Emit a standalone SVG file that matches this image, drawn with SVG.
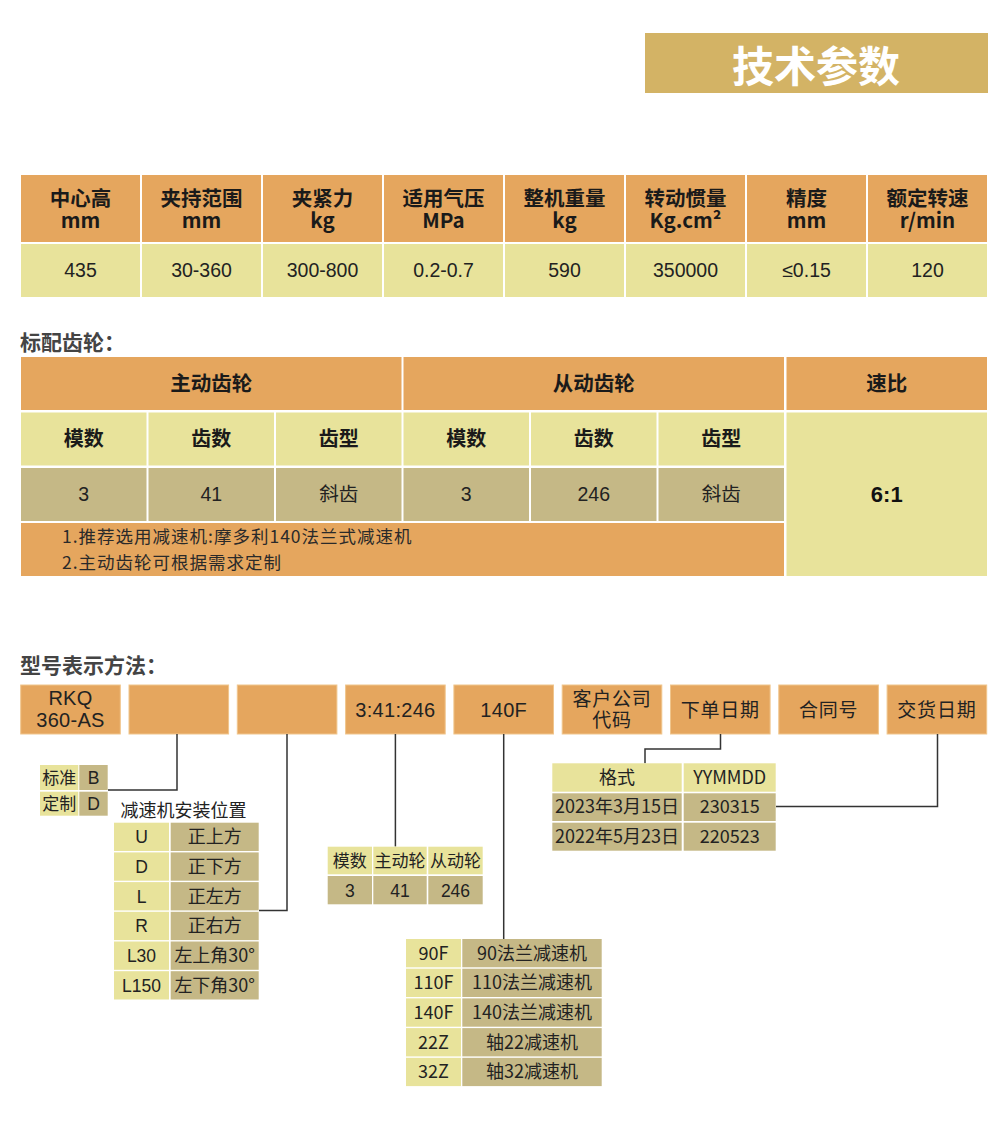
<svg xmlns="http://www.w3.org/2000/svg" width="1000" height="1134" viewBox="0 0 1000 1134">
<style>
.o{fill:#E5A65E}
.y{fill:#E8E39B}
.k{fill:#C5B886}
.bx{fill:#E5A65E;stroke:#F0C58C;stroke-width:1}
.hb{font-family:"Noto Sans CJK SC",sans-serif;font-weight:700;font-size:20.5px;fill:#1a1a1a;text-anchor:middle}
.hb2{font-family:"Noto Sans CJK SC",sans-serif;font-weight:700;font-size:20px;fill:#1a1a1a;text-anchor:middle}
.v{font-family:"Liberation Sans","Noto Sans CJK SC",sans-serif;font-size:19.5px;fill:#222;text-anchor:middle}
.mb{font-family:"Liberation Sans","Noto Sans CJK SC",sans-serif;font-size:20px;fill:#222;text-anchor:middle;letter-spacing:0.3px}
.vs{font-family:"Liberation Sans","Noto Sans CJK SC",sans-serif;font-size:17.5px;fill:#222;text-anchor:middle}
.cj{font-family:"Noto Sans CJK SC",sans-serif;font-size:18px;fill:#222;text-anchor:middle}
.cm{font-family:"Noto Sans CJK SC",sans-serif;font-size:19px;fill:#222;text-anchor:middle;letter-spacing:0.8px}
.ttl{font-family:"Noto Sans CJK SC",sans-serif;font-weight:700;font-size:21px;fill:#444}
.note{font-family:"Noto Sans CJK SC",sans-serif;font-size:17.5px;fill:#2a2a2a;letter-spacing:1px}
.ln{stroke:#333;stroke-width:1.5;fill:none}
</style>

<g id="banner">
<rect x="645" y="33" width="343" height="60" fill="#D3B365"/>
<text x="816" y="82" font-family="'Noto Sans CJK SC',sans-serif" font-weight="700" font-size="42" fill="#fff" text-anchor="middle">技术参数</text>
</g>

<g id="spec-table">
<rect class="o" x="21" y="175" width="119" height="67"/>
<rect class="o" x="142" y="175" width="119" height="67"/>
<rect class="o" x="263" y="175" width="119" height="67"/>
<rect class="o" x="384" y="175" width="119" height="67"/>
<rect class="o" x="505" y="175" width="119" height="67"/>
<rect class="o" x="626" y="175" width="119" height="67"/>
<rect class="o" x="747" y="175" width="119" height="67"/>
<rect class="o" x="868" y="175" width="119" height="67"/>
<rect class="y" x="21" y="244" width="119" height="53"/>
<rect class="y" x="142" y="244" width="119" height="53"/>
<rect class="y" x="263" y="244" width="119" height="53"/>
<rect class="y" x="384" y="244" width="119" height="53"/>
<rect class="y" x="505" y="244" width="119" height="53"/>
<rect class="y" x="626" y="244" width="119" height="53"/>
<rect class="y" x="747" y="244" width="119" height="53"/>
<rect class="y" x="868" y="244" width="119" height="53"/>
<text class="hb" x="80.5" y="205.5">中心高</text><text class="hb" x="80.5" y="228">mm</text>
<text class="hb" x="201.5" y="205.5">夹持范围</text><text class="hb" x="201.5" y="228">mm</text>
<text class="hb" x="322.5" y="205.5">夹紧力</text><text class="hb" x="322.5" y="228">kg</text>
<text class="hb" x="443.5" y="205.5">适用气压</text><text class="hb" x="443.5" y="228">MPa</text>
<text class="hb" x="564.5" y="205.5">整机重量</text><text class="hb" x="564.5" y="228">kg</text>
<text class="hb" x="685.5" y="205.5">转动惯量</text><text class="hb" x="685.5" y="228">Kg.cm²</text>
<text class="hb" x="806.5" y="205.5">精度</text><text class="hb" x="806.5" y="228">mm</text>
<text class="hb" x="927.5" y="205.5">额定转速</text><text class="hb" x="927.5" y="228">r/min</text>
<text class="v" x="80.5" y="277">435</text>
<text class="v" x="201.5" y="277">30-360</text>
<text class="v" x="322.5" y="277">300-800</text>
<text class="v" x="443.5" y="277">0.2-0.7</text>
<text class="v" x="564.5" y="277">590</text>
<text class="v" x="685.5" y="277">350000</text>
<text class="v" x="806.5" y="277">≤0.15</text>
<text class="v" x="927.5" y="277">120</text>
</g>

<g id="gear-title"><text class="ttl" x="20" y="350">标配齿轮：</text></g>

<g id="gear-table">
<rect class="o" x="21" y="357" width="380.5" height="53"/>
<rect class="o" x="403.5" y="357" width="380.5" height="53"/>
<rect class="o" x="786.5" y="357" width="200.5" height="53"/>
<rect class="y" x="21" y="412.5" width="125.5" height="53"/>
<rect class="y" x="148.5" y="412.5" width="125.5" height="53"/>
<rect class="y" x="276" y="412.5" width="125.5" height="53"/>
<rect class="y" x="403.5" y="412.5" width="125.5" height="53"/>
<rect class="y" x="531" y="412.5" width="125.5" height="53"/>
<rect class="y" x="658.5" y="412.5" width="125.5" height="53"/>
<rect class="k" x="21" y="468" width="125.5" height="53"/>
<rect class="k" x="148.5" y="468" width="125.5" height="53"/>
<rect class="k" x="276" y="468" width="125.5" height="53"/>
<rect class="k" x="403.5" y="468" width="125.5" height="53"/>
<rect class="k" x="531" y="468" width="125.5" height="53"/>
<rect class="k" x="658.5" y="468" width="125.5" height="53"/>
<rect class="o" x="21" y="523" width="763" height="53"/>
<rect class="y" x="786.5" y="412.5" width="200.5" height="163.5"/>
<text class="hb" x="211.25" y="391">主动齿轮</text>
<text class="hb" x="593.75" y="391">从动齿轮</text>
<text class="hb" x="886.75" y="391">速比</text>
<text class="hb2" x="83.75" y="446">模数</text>
<text class="hb2" x="211.25" y="446">齿数</text>
<text class="hb2" x="338.75" y="446">齿型</text>
<text class="hb2" x="466.25" y="446">模数</text>
<text class="hb2" x="593.75" y="446">齿数</text>
<text class="hb2" x="721.25" y="446">齿型</text>
<text class="v" x="83.75" y="501">3</text>
<text class="v" x="211.25" y="501">41</text>
<text class="v" x="338.75" y="501">斜齿</text>
<text class="v" x="466.25" y="501">3</text>
<text class="v" x="593.75" y="501">246</text>
<text class="v" x="721.25" y="501">斜齿</text>
<text x="886.75" y="502" font-family="'Liberation Sans',sans-serif" font-weight="700" font-size="22" fill="#111" text-anchor="middle">6:1</text>
<text class="note" x="62" y="543">1.推荐选用减速机:摩多利140法兰式减速机</text>
<text class="note" x="62" y="569">2.主动齿轮可根据需求定制</text>
</g>

<g id="model-title"><text class="ttl" x="20" y="673">型号表示方法：</text></g>

<g id="box-rkq"><rect class="bx" x="20.7" y="685" width="99.6" height="49"/>
<text class="mb" x="70.5" y="705">RKQ</text><text class="mb" x="70.5" y="726.5">360-AS</text></g>
<g id="box-2"><rect class="bx" x="129" y="685" width="99.6" height="49"/></g>
<g id="box-3"><rect class="bx" x="237.3" y="685" width="99.6" height="49"/></g>
<g id="box-ratio"><rect class="bx" x="345.6" y="685" width="99.6" height="49"/><text class="mb" x="395.4" y="716.5">3:41:246</text></g>
<g id="box-140f"><rect class="bx" x="453.9" y="685" width="99.6" height="49"/><text class="mb" x="503.7" y="716.5">140F</text></g>
<g id="box-customer"><rect class="bx" x="562.2" y="685" width="99.6" height="49"/><text class="cm" x="612" y="706">客户公司</text><text class="cm" x="612" y="727">代码</text></g>
<g id="box-order"><rect class="bx" x="670.5" y="685" width="99.6" height="49"/><text class="cm" x="720.3" y="717">下单日期</text></g>
<g id="box-contract"><rect class="bx" x="778.8" y="685" width="99.6" height="49"/><text class="cm" x="828.6" y="717">合同号</text></g>
<g id="box-delivery"><rect class="bx" x="887.1" y="685" width="99.6" height="49"/><text class="cm" x="936.9" y="717">交货日期</text></g>

<g id="connectors">
<path class="ln" d="M177,734 V790 H108"/>
<path class="ln" d="M287,734 V910.5 H259"/>
<path class="ln" d="M395.4,734 V846.5"/>
<path class="ln" d="M503.7,734 V939"/>
<path class="ln" d="M720.5,734 V749 H645 V763.3"/>
<path class="ln" d="M937.5,734 V806.5 H776"/>
</g>

<g id="std-table">
<rect class="y" x="40" y="765" width="38.3" height="25"/>
<rect class="k" x="79.3" y="765" width="28.4" height="25"/>
<rect class="y" x="40" y="791.7" width="38.3" height="24"/>
<rect class="k" x="79.3" y="791.7" width="28.4" height="24"/>
<text class="cj" x="59.2" y="784" style="font-size:17px">标准</text>
<text class="vs" x="93.5" y="784">B</text>
<text class="cj" x="59.2" y="810" style="font-size:17px">定制</text>
<text class="vs" x="93.5" y="810">D</text>
</g>

<g id="mount-table">
<text class="cj" x="120.5" y="817" style="text-anchor:start">减速机安装位置</text>
<rect class="y" x="114" y="822.7" width="55" height="28.3"/><rect class="k" x="170.7" y="822.7" width="88" height="28.3"/>
<rect class="y" x="114" y="852.4" width="55" height="28.3"/><rect class="k" x="170.7" y="852.4" width="88" height="28.3"/>
<rect class="y" x="114" y="882.1" width="55" height="28.3"/><rect class="k" x="170.7" y="882.1" width="88" height="28.3"/>
<rect class="y" x="114" y="911.8" width="55" height="28.3"/><rect class="k" x="170.7" y="911.8" width="88" height="28.3"/>
<rect class="y" x="114" y="941.5" width="55" height="28.3"/><rect class="k" x="170.7" y="941.5" width="88" height="28.3"/>
<rect class="y" x="114" y="971.2" width="55" height="28.3"/><rect class="k" x="170.7" y="971.2" width="88" height="28.3"/>
<text class="vs" x="141.5" y="843.3">U</text><text class="cj" x="214.7" y="843.3">正上方</text>
<text class="vs" x="141.5" y="873">D</text><text class="cj" x="214.7" y="873">正下方</text>
<text class="vs" x="141.5" y="902.7">L</text><text class="cj" x="214.7" y="902.7">正左方</text>
<text class="vs" x="141.5" y="932.4">R</text><text class="cj" x="214.7" y="932.4">正右方</text>
<text class="vs" x="141.5" y="962.1">L30</text><text class="cj" x="214.7" y="962.1">左上角30°</text>
<text class="vs" x="141.5" y="991.8">L150</text><text class="cj" x="214.7" y="991.8">左下角30°</text>
</g>

<g id="ratio-table">
<rect class="y" x="327.7" y="846.7" width="44.3" height="27.6"/>
<rect class="y" x="373.3" y="846.7" width="53.4" height="27.6"/>
<rect class="y" x="428.3" y="846.7" width="54.4" height="27.6"/>
<rect class="k" x="327.7" y="876" width="44.3" height="28.3"/>
<rect class="k" x="373.3" y="876" width="53.4" height="28.3"/>
<rect class="k" x="428.3" y="876" width="54.4" height="28.3"/>
<text class="cj" x="349.8" y="866.5" style="font-size:17px">模数</text>
<text class="cj" x="400" y="866.5" style="font-size:17px">主动轮</text>
<text class="cj" x="455.5" y="866.5" style="font-size:17px">从动轮</text>
<text class="vs" x="349.8" y="896.7">3</text>
<text class="vs" x="400" y="896.7">41</text>
<text class="vs" x="455.5" y="896.7">246</text>
</g>

<g id="reducer-table">
<rect class="y" x="406" y="939" width="55" height="28.3"/><rect class="k" x="462.3" y="939" width="139.4" height="28.3"/>
<rect class="y" x="406" y="968.7" width="55" height="28.3"/><rect class="k" x="462.3" y="968.7" width="139.4" height="28.3"/>
<rect class="y" x="406" y="998.4" width="55" height="28.3"/><rect class="k" x="462.3" y="998.4" width="139.4" height="28.3"/>
<rect class="y" x="406" y="1028.1" width="55" height="28.3"/><rect class="k" x="462.3" y="1028.1" width="139.4" height="28.3"/>
<rect class="y" x="406" y="1057.8" width="55" height="28.3"/><rect class="k" x="462.3" y="1057.8" width="139.4" height="28.3"/>
<text class="cj" x="433.5" y="959.5">90F</text><text class="cj" x="532" y="959.5">90法兰减速机</text>
<text class="cj" x="433.5" y="989.2">110F</text><text class="cj" x="532" y="989.2">110法兰减速机</text>
<text class="cj" x="433.5" y="1018.9">140F</text><text class="cj" x="532" y="1018.9">140法兰减速机</text>
<text class="cj" x="433.5" y="1048.6">22Z</text><text class="cj" x="532" y="1048.6">轴22减速机</text>
<text class="cj" x="433.5" y="1078.3">32Z</text><text class="cj" x="532" y="1078.3">轴32减速机</text>
</g>

<g id="date-table">
<rect class="y" x="552.3" y="763.3" width="129.4" height="28.4"/>
<rect class="y" x="683.7" y="763.3" width="92" height="28.4"/>
<rect class="k" x="552.3" y="793.3" width="129.4" height="27.7"/>
<rect class="k" x="683.7" y="793.3" width="92" height="27.7"/>
<rect class="k" x="552.3" y="822.7" width="129.4" height="28"/>
<rect class="k" x="683.7" y="822.7" width="92" height="28"/>
<text class="cj" x="617" y="784">格式</text>
<text class="cj" x="729.7" y="784">YYMMDD</text>
<text class="cj" x="617" y="813.3">2023年3月15日</text>
<text class="cj" x="729.7" y="813.3">230315</text>
<text class="cj" x="617" y="842.7">2022年5月23日</text>
<text class="cj" x="729.7" y="842.7">220523</text>
</g>
</svg>
